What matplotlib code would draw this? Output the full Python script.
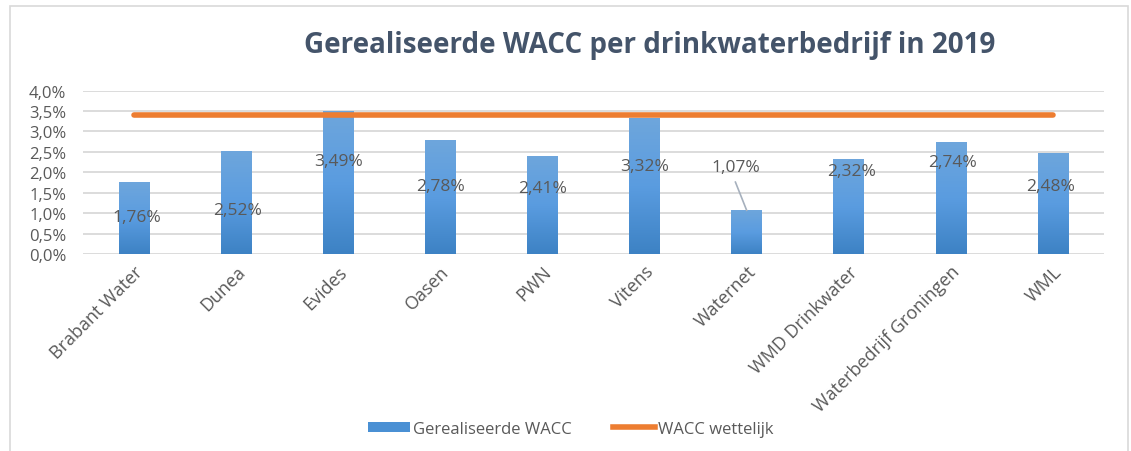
import numpy as np
import matplotlib.pyplot as plt
from matplotlib.colors import LinearSegmentedColormap
from matplotlib.patches import Rectangle
from matplotlib.lines import Line2D
from matplotlib.ticker import FuncFormatter

bedrijven = ["Brabant Water", "Dunea", "Evides", "Oasen", "PWN", "Vitens",
             "Waternet", "WMD Drinkwater", "Waterbedrijf Groningen", "WML"]
wacc = [1.76, 2.52, 3.49, 2.78, 2.41, 3.32, 1.07, 2.32, 2.74, 2.48]
wacc_wettelijk = [3.40] * len(bedrijven)

# where Excel put the data labels (y in %, small x shift in categories)
label_y = [0.90, 1.07, 2.27, 1.66, 1.61, 2.15, 2.12, 2.02, 2.24, 1.66]
label_dx = [0.03, 0.01, 0.0, 0.0, 0.0, 0.0, -0.11, 0.03, 0.02, -0.02]

plt.rcParams['font.family'] = ['Open Sans', 'DejaVu Sans']
grijs = '#595959'

fig = plt.figure(figsize=(11.31, 4.52), dpi=100)
fig.patches.append(Rectangle((10 / 1131, -0.01), 1118 / 1131, 1 - 7 / 452 + 0.01,
                             transform=fig.transFigure, fill=False,
                             edgecolor='#d9d9d9', linewidth=1.2))
ax = fig.add_axes([83 / 1131, (452 - 255) / 452, 1021 / 1131, 163.4 / 452])

x = np.arange(len(bedrijven))
bars = ax.bar(x, wacc, width=0.30, color='#5b9bd5', zorder=2)

# vertical gradient like the Excel fill
cmap = LinearSegmentedColormap.from_list('blauw', ['#3d82c4', '#5a9ce0', '#6ea6dc'])
grad = np.linspace(0, 1, 256).reshape(-1, 1)
for b in bars:
    b.set_facecolor('none')
    im = ax.imshow(grad, cmap=cmap, origin='lower', aspect='auto', zorder=2,
                   extent=[b.get_x(), b.get_x() + b.get_width(), 0, b.get_height()])
    im.set_clip_path(b)

ax.plot(x, wacc_wettelijk, color='#ed7d31', linewidth=4, solid_capstyle='round', zorder=3)

for i, v in enumerate(wacc):
    ax.text(i + label_dx[i], label_y[i], f"{v:.2f}%".replace('.', ','),
            ha='center', va='center', fontsize=12.5, color=grijs, zorder=4)
# leader line for Waternet
ax.plot([6 - 0.11, 6 - 0.0], [1.76, wacc[6]], color='#a6b0bd', linewidth=1.2, zorder=4)

ax.set_xlim(-0.5, 9.5)
ax.set_ylim(0, 4.0)
ax.set_yticks(np.arange(0, 4.01, 0.5))
ax.yaxis.set_major_formatter(FuncFormatter(lambda v, p: f"{v:.1f}%".replace('.', ',')))
ax.grid(axis='y', color='#d9d9d9', linewidth=1.3, zorder=0)
ax.set_axisbelow(True)
for s in ax.spines.values():
    s.set_visible(False)
ax.tick_params(axis='y', length=0, labelsize=12, labelcolor=grijs, pad=12)
ax.tick_params(axis='x', length=0, labelsize=13, labelcolor=grijs, pad=6)
ax.set_xticks(x)
ax.set_xticklabels(bedrijven, rotation=45, ha='right', rotation_mode='anchor')

fig.text(650 / 1131, 1 - 45 / 452, "Gerealiseerde WACC per drinkwaterbedrijf in 2019",
         ha='center', va='center', fontsize=20, fontweight='bold', color='#44546a')

handles = [Rectangle((0, 0), 1, 1, facecolor='#4a90d4'),
           Line2D([0], [0], color='#ed7d31', linewidth=4)]
fig.legend(handles, ["Gerealiseerde WACC", "WACC wettelijk"], loc='center',
           bbox_to_anchor=(571 / 1131, 1 - 430 / 452), ncol=2, frameon=False,
           fontsize=12, labelcolor=grijs, handlelength=2.5, handleheight=0.6,
           columnspacing=2.5, handletextpad=0.2)

fig.savefig('out.png', dpi=100, facecolor='white')
